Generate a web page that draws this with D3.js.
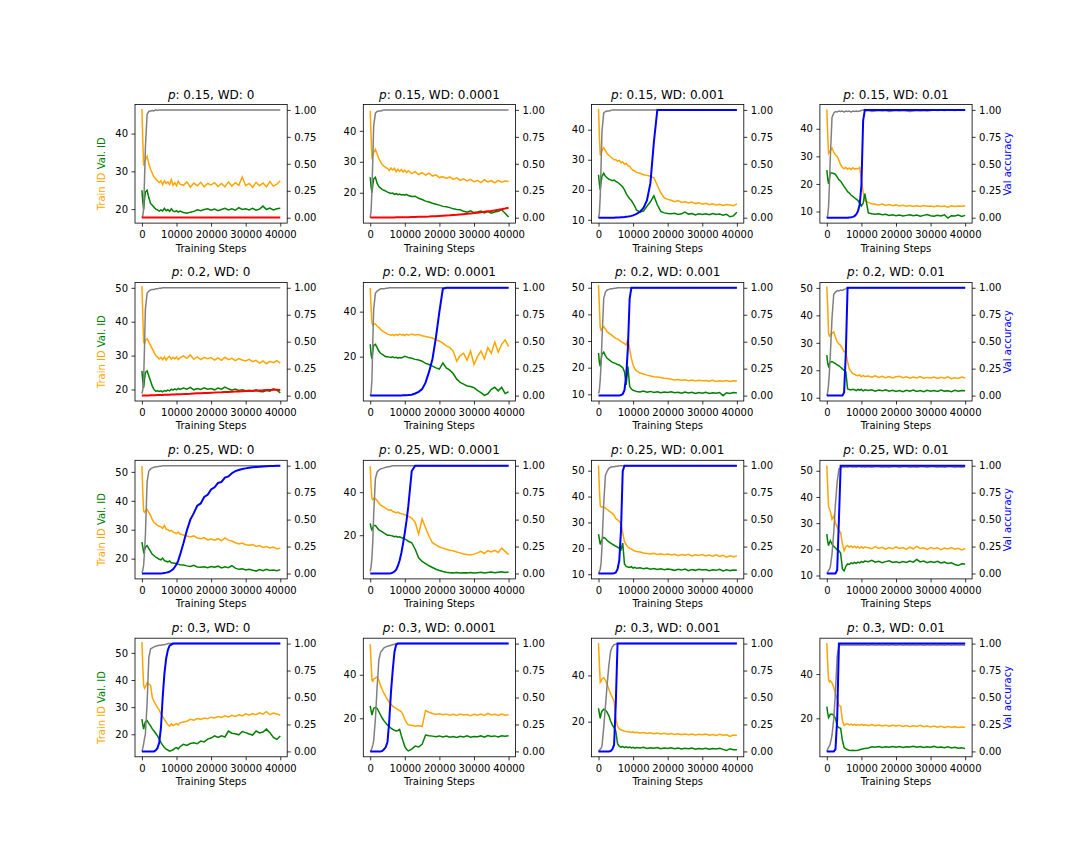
<!DOCTYPE html>
<html>
<head>
<meta charset="utf-8">
<script src="https://cdn.jsdelivr.net/npm/d3@7"></script>
<style>
body { margin: 0; background: #fff; }
text { font-family: "DejaVu Sans", sans-serif; }
</style>
</head>
<body>
<svg id="chart" width="1080" height="864"></svg>
<script>
// training steps shared by every run
var steps = [0,250,500,750,1000,
  1500,2000,2500,3000,3500,4000,4500,5000,
  5500,6000,6500,7000,7500,8000,8500,9000,
  9500,10000,10500,11000,
  12000,13000,14000,15000,16000,17000,18000,19000,20000,
  21000,22000,23000,24000,25000,26000,27000,28000,29000,30000,
  31000,32000,33000,34000,35000,36000,37000,38000,39000,40000];

var pValues = ["0.15", "0.2", "0.25", "0.3"];
var wdValues = ["0", "0.0001", "0.001", "0.01"];
var xTicks = [0, 10000, 20000, 30000, 40000];
var accTicks = [0, 0.25, 0.5, 0.75, 1];

// left axis range and ticks, row by row
var leftDomains = [[16.3,47.7],[10.2,48.5],[8.9,48.4],[5.8,48.8],
  [16.6,51.6],[0.3,53],[7.5,52],[8.8,52],
  [13,54],[-0.3,54.8],[8.2,54],[8.7,54],
  [11.7,55.4],[2.3,56.8],[4.8,56.1],[2.6,56.2]];
var leftTicks = [[20,30,40],[20,30,40],[10,20,30,40],[10,20,30,40],
  [20,30,40,50],[20,40],[10,20,30,40,50],[10,20,30,40,50],
  [20,30,40,50],[20,40],[10,20,30,40,50],[10,20,30,40,50],
  [20,30,40,50],[20,40],[20,40],[20,40]];

var trainId = [
 [46.5,38,31.5,32.5,33, 34,32,30.5,29.5,28.5,28,27.5,27, 27.5,26.5,27.5,26.8,27.2,26.5,27.8,26.3, 27,26.2,27.4,26.6,
  26.3,27.2,25.8,26.9,26.2,27.1,25.9,26.8,26.4, 27,26,26.8,25.9,27.2,26.1,27,26.3,28.5,26.2, 26.8,25.8,27.1,26.2,26.9,25.9,27.3,26.1,26.6,27.5],
 [46.5,38,31.5,32,33, 34,32.5,31,30,29,28.5,28.2,27.8, 27.2,28,27.3,27.9,26.8,27.6,26.9,27.5, 26.7,27.3,26.5,27.1,
  26.2,26.8,25.9,26.5,25.7,26.3,25.4,25.8,24.9, 25.2,24.6,25.1,24.3,24.8,24,24.5,23.8,24.3,23.5, 24,23.3,24.2,23.5,23.9,23.2,24,23.4,23.8,23.6],
 [47,38,31.5,32.5,33, 34,33,32,31.5,31,30.5,30,30, 29.5,29.8,29,29.3,28.5,28.8,28,27.8, 27,26.5,26.2,25.8,
  25.5,25,24.8,24.5,24,21.5,19,17.3,16.8, 16.5,16,16.4,15.8,16,15.6,15.9,15.4,15.7,15.2, 15.5,15,15.3,14.9,15.2,14.8,15.1,14.9,14.7,15.3],
 [47,38,31,31.5,32, 33,31.5,30.5,30,28.5,27,26,25.5, 26,25.3,25.8,25.2,25.9,25.4,25.6,25.5, 26,21.5,17,14,
  13.2,12.8,12.6,12.4,12.7,12.2,12.5,12.1,12.4, 12,12.3,11.9,12.2,11.8,12.1,11.8,12.2,11.9,12, 11.7,12.1,11.8,12,11.6,12.1,11.8,12,11.9,12.1],
 [50.5,42,34,33.5,34.5, 35,34,33,32,31,30,29.5,29, 29.5,28.8,29.6,28.7,29.4,29.8,28.9,29.5, 29,29.6,28.8,29.3,
  29.9,29.2,30.2,28.9,29.6,28.8,29.5,29.1,29.4, 28.7,29.3,28.6,29.5,28.8,29.2,28.5,29.1,28.7,28.4, 28.9,28.2,28.6,27.8,28.4,27.6,28.3,27.9,28.5,27.8],
 [50.5,42,35,34,34.5, 34.5,33.5,33,32,31.5,31,30.5,30, 29.8,29.5,29.8,29.4,29.9,29.5,30,29.6, 29.8,29.4,30,29.5,
  30,29.6,29.8,29.3,29,28.6,28.3,27.5,27, 26,24.8,24,22.5,18,20.5,21.5,18.5,22.5,16.5, 20,22.5,19,24,21.5,26.5,22,25.5,27.5,24.5],
 [51,43,35,34,34.5, 35.4,34.5,33.5,33,32.5,32,31.5,31, 30.8,30.3,29.8,29.4,29,28.5,31,27, 23.5,21,19.5,18.8,
  18,17.6,17.2,16.9,16.6,16.5,16.3,16,15.9, 15.7,15.4,15.6,15.3,15.5,15.1,15.4,15,15.3,15.1, 15.2,14.9,15.3,14.8,15.1,14.9,15.2,14.8,15.1,15],
 [50.5,43,33.5,32.5,33, 33.4,34,32,30.3,29.6,29,28,26.7, 26.7,23,20.5,19.5,18.8,18.5,18.2,18, 18.3,17.6,18.1,17.7,
  17.9,17.5,18,17.4,17.8,17.3,17.7,17.2,17.6, 17.8,17.3,17.6,17.1,17.5,17.2,17.7,17.1,17.4,17.2, 17.5,17,17.4,17.1,17.6,16.9,17.3,17,17.5,17.2],
 [52,43,36.5,36,36.5, 37,36,35,33.5,32.5,32,31.5,31.2, 31,30.5,31.5,30.2,30,29.5,29.8,29.2, 29,28.7,29.2,28.5,
  28.2,27.8,27.5,27.9,27.1,26.9,27.3,26.5,26.8, 26.4,26.9,26.2,27.2,26.4,26.1,25.5,25.1,25.4,24.8, 24.6,24.9,24.2,24.5,23.9,24.2,23.7,24,23.4,23.6],
 [52,43,37,36.5,37, 37,36,35,34,33.5,33,32.5,32, 31.5,31.8,31,30.8,30.5,30.7,30.2,30, 29.8,29.5,29.2,28.8,
  28,26,20.5,27.5,23.5,19.5,16.5,15.5,14.5, 14,13.5,13,12.8,12.2,11.8,11.3,11,10.8,11.2, 11.8,12.5,11.5,12.8,12.2,13,12,14,12.5,11],
 [52,43,36.5,36,36, 36,35.5,35,34.5,34,33.5,32.8,31.5, 31,30.5,29.5,26,22.5,21.5,20.5,20, 19.8,19.3,19,18.8,
  18.6,18.2,18,17.8,18.1,17.6,17.9,17.5,17.8, 17.4,17.7,17.2,17.6,17.3,17.7,17.1,17.5,17.2,17.6, 17.1,17.4,17,17.5,16.9,17.3,16.6,17.1,16.8,17],
 [52,44,36.5,35.5,34.6, 31.5,32.7,30,28.5,27,26.5,22,19.5, 21,21.5,20.8,21.3,20.7,21.2,20.6,21, 20.5,21,20.4,20.9,
  20.6,20.2,21,20.3,20.8,20.1,20.7,20.2,20.9, 20.3,20.7,20,20.8,20.2,21.1,20.3,20.6,20,20.7, 20.2,20.6,19.9,20.5,20.1,20.7,20,20.4,19.8,20.3],
 [54,45,38,37,37.5, 39,38.5,38,33.5,32,31,29.8,29, 27.5,26.5,25.5,24.5,23.5,23,23.8,23.2, 23.6,23.9,23.4,24.2,
  24.5,24.8,25.5,25.2,25.8,25.5,26,25.7,26.3, 26,26.5,26.2,26.8,26.4,27,26.6,27.2,26.8,27.5, 27,27.6,27.2,27.9,27.4,28.3,27.2,27.8,27.5,27],
 [54,46,37.5,37,38, 38.5,39,37.5,35,33,31.5,30,28.5, 27.5,26.5,25.5,25,24.5,24,23.5,23, 21.5,19.5,18,17,
  16.8,16.3,16.7,16.2,23.5,22.8,22.2,21.8,22.1, 21.6,21.9,21.4,21.8,21.3,22,21.5,21.7,21.2,21.8, 21.4,21.9,21.3,22.3,21.5,21.8,21.3,21.9,21.4,21.6],
 [54,45,37,37.5,38.5, 39,38,36,34,32,30.5,29,21.5, 18,17,16.5,16.2,15.9,15.7,15.6,15.5, 15.3,15.6,15.2,15.4,
  15.1,15.3,14.9,15.2,14.8,15.1,14.7,15,14.6, 14.9,14.5,14.8,14.4,14.7,14.3,14.6,14.2,14.5,14.3, 14.6,14.1,14.4,14,14.5,14.1,14.3,13.6,14.2,14],
 [54,45,37.5,36.5,37, 36,34,31,29,25.6,25.5,19,16.8, 17.3,17.5,17,17.4,16.9,17.3,16.8,17.2, 16.9,17.3,16.8,17.1,
  16.7,17.2,16.6,17,16.5,16.9,16.4,16.8,16.5, 16.8,16.3,16.7,16.2,16.6,16.3,16.8,16.2,16.5,16.1, 16.5,16,16.4,15.9,16.3,16,16.2,15.8,16.1,15.9]
];

var valId = [
 [25,22,20,22.5,24.5, 25,23,21.5,21,20.5,20,19.8,19.5, 19.8,19.5,20.2,19.6,19.9,19.4,20.1,19.5, 19.3,19.6,19.2,19.5,
  19.1,18.9,19.2,19.4,19.8,19.6,19.9,20.1,19.7, 20,19.6,19.9,20.2,19.8,20.1,19.7,20.4,19.9,20.1, 19.8,20.2,19.7,20,20.8,19.9,20.3,19.8,20.1,20.2],
 [25,22,20,22.5,24.5, 25,23,22,21.5,21,20.8,20.5,20.2, 20,19.8,19.9,19.5,19.7,19.4,19.6,19.3, 19.4,19.2,19.5,19.1,
  18.8,18.9,18.2,17.8,17.3,17,16.6,16.3,16, 15.6,15.5,15.2,14.8,14.6,14.5,14,13.7,14.2,13.6, 13.8,14.1,13.5,13.9,13.4,13.8,14,14.5,13.4,12.2],
 [25,22,20,22.5,24.5, 25.5,24.5,24,23.5,23.3,23,23.2,22.8, 22.5,22,21.5,20.9,20,18.7,17.8,17, 16.4,15.5,14.5,13.2,
  12.6,12.9,14.5,16,18,15,12.8,12.3,12.1, 12,12.2,11.8,12,12.6,11.9,12.1,11.6,12,11.8, 12,11.7,12.1,11.8,11.9,11.5,11.8,11,11.3,12.5],
 [25,22,20,22,24, 24,23.8,23.5,22.5,21.5,21,20,19, 18.2,17.2,16.7,16,15.5,15,14.5,14, 13,12,13,16.5,
  9.5,9.2,9,9.2,8.8,9,8.6,8.8,8.5, 8.7,8.4,8.6,8.8,8.5,8.7,8.3,8.6,8.9,8.5, 8.3,8.6,8.4,8.8,7.6,8.5,8.4,8.7,8.2,8.6],
 [25.5,22.5,20.5,23,25, 25.5,24,22.5,21,20,19.5,19.6,19.4, 19.6,19.3,19.7,19.5,19.8,19.6,20.1,19.8, 20.2,19.9,20.3,20,
  20.4,20.1,20.6,19.9,20.3,20,20.5,20.1,20.3, 19.9,20.4,20.1,20.7,20.2,19.8,20.1,19.7,19.9,19.6, 19.8,19.5,19.9,19.4,19.3,19.7,19.5,20.2,19.8,19],
 [25.5,21,19,22.5,25, 25.5,24,22.5,21.5,21,20.5,20,20, 19.8,19.6,19.9,19.5,19.7,19.3,19.6,19.4, 19.8,20.2,19.9,19.6,
  19.3,18.8,18.5,18,17,16.5,15.8,15,14.5, 17.2,15,14,12.5,10,8.6,7.8,7,6.7,6.2, 5,4,2.8,3.5,5.5,6.4,4.8,6.4,3.6,4.4],
 [25.5,22,20.5,23,25, 25.8,24.5,23.5,23,22.5,22,21.8,21.5, 21.2,21,20.5,20,18.5,13.5,20.5,13, 12,11.5,11.3,11.1,
  10.9,11.2,10.8,11.1,10.7,11,10.6,10.9,10.7, 11,10.6,10.8,10.4,10.9,10.5,10.8,10.3,10.7,10.4, 10.8,10.3,10.6,10.4,10.7,9.5,10.6,10.3,10.7,10.5],
 [25.5,22.5,21.5,22.5,23, 23.2,22.8,22.4,22,21.6,21.1,20.5,19.9, 19.5,13.2,13,12.8,13.1,12.9,12.6,13, 12.7,13,12.5,12.9,
  12.6,12.9,12.4,12.8,12.5,12.9,12.4,12.7,12.3, 12.6,12.2,12.7,12.4,12.8,12.3,12.6,12.2,12.7,12.4, 12.6,12.3,12.8,12.4,12.5,12.2,12.7,12.4,12.6,12.5],
 [25.7,24,22.3,23,24, 24.5,23.5,22.5,21.5,21,20.5,20.2,19.8, 19.6,20.2,19.3,19.1,18.9,19.2,18.6,18.5, 18.4,18.3,18.1,17.9,
  17.8,17.5,17.3,17.7,17.1,17,17.2,16.9,17.3, 17,17.4,16.8,17.2,16.9,17.6,16.7,16.3,16.5,16.1, 16.3,16,15.7,16.2,15.8,16.3,15.9,16.1,15.8,16.2],
 [25.5,23.5,22.5,23.5,24.5, 24.5,23.5,22.5,22,21.5,21,20.5,20, 20,19.8,19.6,19.3,19.5,19.1,19.3,18.9, 18.6,18.2,17.8,17.2,
  16.5,13.5,9.5,7.8,6.8,5.8,5,4.2,3.6, 3.1,2.8,2.6,2.5,2.7,2.4,2.6,2.5,2.7,2.4, 2.6,2.8,2.5,2.7,2.9,2.6,2.8,3,2.7,2.9],
 [25.5,23.5,21.5,22.5,23.5, 24.2,23.8,23,22.5,22,21.6,21.2,20.8, 20.5,20,19.5,22,14,13,12.8,12.6, 12.9,12.4,12.7,12.3,
  12.5,12.1,12.4,11.9,12.2,11.8,12.1,11.7,12, 11.8,11.5,11.9,11.6,12,11.4,11.8,11.5,11.9,11.6, 11.8,11.4,11.7,11.5,11.9,11.3,11.7,11.4,11.6,11.5],
 [25.8,23,21.4,22.5,23.3, 22,21.2,20.5,19.8,19.5,18.5,12.5,11.8, 13.5,14.4,14.2,14.8,14.5,15,14.6,15.1, 14.8,15.3,15,15.5,
  15.3,15.8,15.1,15.4,14.9,15.3,15.6,15,15.2, 14.9,15.3,15,15.5,15.1,16.1,15.2,15.5,14.9,15.3, 15,15.4,14.8,15.1,14.6,14.9,14.2,13.8,14.5,14.4],
 [25.6,23.5,21.9,23.5,24.5, 25,24,23.1,22,21.2,20.3,19.4,18.2, 16.9,16,15.1,14.5,14.2,13.8,14,14.3, 14.8,15.1,14.6,15.4,
  16.3,15.9,16.6,16.9,16.5,17.5,17.2,18.2,18.6, 19.4,18.8,19.4,19,21.2,20.4,20.2,19.8,21,20.6, 20.1,19.7,21.2,20.5,20.8,21.9,20.6,18.8,18.1,19.4],
 [25.7,23.5,21.5,23,24.5, 25,24.5,23,21.5,20,18.8,17.8,16.8, 16.2,15.5,14.9,14.5,14.2,14.4,14.9,12, 9.5,7,5.8,5,
  5.8,7.2,6.8,8,12.3,12,11.8,11.5,11.9, 11.4,11.8,11.3,11.6,11.2,11.7,11.4,11.9,11.3,11.6, 11.5,11.9,11.3,12.1,11.6,11.9,11.4,12,11.7,12],
 [25.8,23.5,21.4,23.5,24.5, 25.4,25,24,22.5,20.3,18.5,17.4,15.9, 10.5,9.4,9,9.2,8.8,9.1,8.7,9, 8.6,8.9,8.5,8.8,
  8.6,8.9,8.4,8.7,8.5,8.8,8.3,8.6,8.4, 8.7,8.3,8.6,8.2,8.5,8.3,8.6,8.1,8.4,8.2, 8.5,8.1,8.4,8.2,8.5,8,7.5,8.3,7.9,7.9],
 [25.3,22.5,20.3,21,21.8, 21.8,21.5,20,16.5,15.8,15.5,10,6.8, 6.2,5.8,5.6,5.5,5.6,5.4,5.5,5.6, 5.8,6,6.2,6.4,
  6.6,7.1,6.9,7.2,6.8,7.1,6.9,7.3,6.9, 7.2,6.8,7.1,7,7.4,6.9,7.2,6.8,7.1,6.9, 7.3,6.8,7,6.7,7.1,6.6,6.9,6.5,6.7,6.3]
];

var trainAcc = [
 [0,0.02,0.08,0.35,0.65, 0.96,0.985,0.99,0.995,0.99,1,0.995,1, 1,1,1,1,1,1,1,1, 1,1,1,1,
  1,1,1,1,1,1,1,1,1, 1,1,1,1,1,1,1,1,1,1, 1,1,1,1,1,1,1,1,1,1],
 [0,0.06,0.25,0.55,0.85, 0.97,0.985,0.99,0.99,0.995,1,1,1, 1,1,1,1,1,1,1,1, 1,1,1,1,
  1,1,1,1,1,1,1,1,1, 1,1,1,1,1,1,1,1,1,1, 1,1,1,1,1,1,1,1,1,1],
 [0,0.04,0.2,0.5,0.8, 0.97,0.985,0.99,0.99,0.995,1,1,1, 1,1,1,1,1,1,1,1, 1,1,1,1,
  1,1,1,1,1,1,1,1,1, 1,1,1,1,1,1,1,1,1,1, 1,1,1,1,1,1,1,1,1,1],
 [0,0.02,0.1,0.3,0.55, 0.93,0.97,0.985,0.98,0.99,0.985,0.99,0.98, 0.99,0.985,0.99,0.98,0.99,0.985,0.99,0.985, 0.99,0.995,1,0.99,
  0.995,0.985,0.99,0.995,0.99,0.995,0.985,0.99,0.995, 0.99,0.995,0.99,0.985,0.99,0.995,0.99,0.995,0.99,0.995, 1,0.995,1,0.995,1,1,0.995,1,1,1],
 [0.02,0.05,0.15,0.45,0.8, 0.95,0.97,0.98,0.985,0.985,0.99,0.99,0.995, 0.995,1,1,1,1,1,1,1, 1,1,1,1,
  1,1,1,1,1,1,1,1,1, 1,1,1,1,1,1,1,1,1,1, 1,1,1,1,1,1,1,1,1,1],
 [0,0.03,0.15,0.5,0.8, 0.95,0.97,0.98,0.99,0.99,0.99,0.995,0.995, 1,1,1,1,1,1,1,1, 1,1,1,1,
  1,1,1,1,1,1,1,1,1, 1,1,1,1,1,1,1,1,1,1, 1,1,1,1,1,1,1,1,1,1],
 [0.02,0.05,0.15,0.3,0.52, 0.9,0.96,0.98,0.985,0.99,0.99,0.995,0.995, 1,1,1,1,1,1,1,1, 1,1,1,1,
  1,1,1,1,1,1,1,1,1, 1,1,1,1,1,1,1,1,1,1, 1,1,1,1,1,1,1,1,1,1],
 [0,0.03,0.1,0.22,0.37, 0.72,0.94,0.96,0.975,0.97,0.98,0.975,0.985, 0.99,1,1,1,1,1,1,1, 1,1,1,1,
  1,1,1,1,1,1,1,1,1, 1,1,1,1,1,1,1,1,1,1, 1,1,1,1,1,1,1,1,1,1],
 [0.01,0.03,0.08,0.2,0.35, 0.85,0.95,0.97,0.98,0.985,0.99,0.99,0.995, 0.995,1,1,1,1,1,1,1, 1,1,1,1,
  1,1,1,1,1,1,1,1,1, 1,1,1,1,1,1,1,1,1,1, 1,1,1,1,1,1,1,1,1,1],
 [0.02,0.06,0.15,0.3,0.55, 0.88,0.94,0.96,0.97,0.975,0.98,0.985,0.99, 0.99,0.995,1,1,1,1,1,1, 1,1,1,1,
  1,1,1,1,1,1,1,1,1, 1,1,1,1,1,1,1,1,1,1, 1,1,1,1,1,1,1,1,1,1],
 [0,0.02,0.04,0.1,0.25, 0.65,0.91,0.95,0.975,0.985,0.99,0.99,0.995, 0.995,1,1,1,1,1,1,1, 1,1,1,1,
  1,1,1,1,1,1,1,1,1, 1,1,1,1,1,1,1,1,1,1, 1,1,1,1,1,1,1,1,1,1],
 [0,0.01,0.03,0.04,0.06, 0.18,0.38,0.65,0.85,0.97,0.98,0.99,0.985, 0.99,0.985,0.99,0.99,0.985,0.99,0.985,0.99, 0.99,0.985,0.99,0.985,
  0.99,0.985,0.99,0.99,0.985,0.99,0.985,0.99,0.99, 0.985,0.99,0.99,0.985,0.99,0.985,0.99,0.99,0.985,0.99, 0.99,0.985,0.99,0.985,0.99,0.99,0.985,0.99,0.985,0.99],
 [0,0.03,0.07,0.12,0.16, 0.45,0.87,0.95,0.96,0.97,0.975,0.98,0.985, 0.985,0.99,0.99,0.995,1,1,1,1, 1,1,1,1,
  1,1,1,1,1,1,1,1,1, 1,1,1,1,1,1,1,1,1,1, 1,1,1,1,1,1,1,1,1,1],
 [0,0.01,0.03,0.06,0.1, 0.3,0.6,0.85,0.92,0.94,0.96,0.97,0.975, 0.98,0.985,0.99,0.995,1,1,1,1, 1,1,1,1,
  1,1,1,1,1,1,1,1,1, 1,1,1,1,1,1,1,1,1,1, 1,1,1,1,1,1,1,1,1,1],
 [0,0.01,0.02,0.03,0.05, 0.22,0.42,0.62,0.8,0.93,0.97,0.99,0.995, 1,1,1,1,1,1,1,1, 1,1,1,1,
  1,1,1,1,1,1,1,1,1, 1,1,1,1,1,1,1,1,1,1, 1,1,1,1,1,1,1,1,1,1],
 [0,0.02,0.04,0.05,0.07, 0.15,0.3,0.55,0.88,0.98,0.99,0.985,0.99, 0.985,0.99,0.985,0.99,0.985,0.99,0.985,0.99, 0.985,0.99,0.985,0.99,
  0.985,0.99,0.985,0.99,0.985,0.99,0.985,0.99,0.985, 0.99,0.985,0.99,0.985,0.99,0.985,0.99,0.985,0.99,0.985, 0.99,0.985,0.99,0.985,0.99,0.985,0.99,0.985,0.99,0.985]
];

var valAcc = [
 [0.002,0.002,0.003,0.002,0.003, 0.002,0.003,0.002,0.003,0.002,0.003,0.002,0.003, 0.002,0.003,0.002,0.003,0.002,0.003,0.002,0.003, 0.002,0.003,0.002,0.003,
  0.002,0.003,0.002,0.003,0.002,0.003,0.002,0.003,0.002, 0.003,0.002,0.003,0.002,0.003,0.002,0.003,0.002,0.003,0.002, 0.003,0.002,0.003,0.002,0.003,0.002,0.003,0.002,0.003,0.003],
 [0.003,0.003,0.003,0.003,0.003, 0.003,0.003,0.003,0.003,0.003,0.003,0.003,0.003, 0.003,0.003,0.003,0.003,0.004,0.004,0.004,0.004, 0.004,0.005,0.005,0.005,
  0.006,0.007,0.008,0.009,0.01,0.011,0.013,0.014,0.016, 0.018,0.02,0.022,0.025,0.027,0.03,0.033,0.036,0.04,0.043, 0.047,0.051,0.055,0.059,0.063,0.068,0.073,0.079,0.085,0.092],
 [0,0,0,0,0, 0,0,0,0,0,0,0,0.002, 0.002,0.003,0.004,0.005,0.006,0.008,0.01,0.013, 0.017,0.022,0.028,0.035,
  0.055,0.09,0.16,0.32,0.7,1,1,1,1, 1,1,1,1,1,1,1,1,1,1, 1,1,1,1,1,1,1,1,1,1],
 [0,0,0,0,0, 0,0,0,0,0,0,0,0, 0,0,0.002,0.004,0.008,0.015,0.03,0.06, 0.12,0.3,0.9,1,
  1,1,1,1,1,1,1,1,1, 1,1,1,1,1,1,1,1,1,1, 1,1,1,1,1,1,1,1,1,1],
 [0,0,0,0,0.001, 0.002,0.002,0.003,0.003,0.004,0.004,0.005,0.005, 0.006,0.006,0.007,0.008,0.008,0.009,0.01,0.011, 0.011,0.012,0.012,0.013,
  0.014,0.016,0.017,0.019,0.021,0.022,0.024,0.025,0.027, 0.028,0.03,0.031,0.033,0.034,0.036,0.037,0.039,0.04,0.042, 0.043,0.045,0.046,0.048,0.049,0.051,0.052,0.054,0.055,0.053],
 [0,0,0,0,0, 0,0,0,0,0,0,0,0, 0,0,0,0,0.001,0.001,0.002,0.002, 0.003,0.003,0.004,0.005,
  0.008,0.02,0.035,0.06,0.12,0.22,0.34,0.54,0.78, 0.99,1,1,1,1,1,1,1,1,1, 1,1,1,1,1,1,1,1,1,1],
 [0,0,0,0,0, 0,0,0,0,0,0,0,0, 0,0,0.005,0.015,0.05,0.18,0.45,0.9, 1,1,1,1,
  1,1,1,1,1,1,1,1,1, 1,1,1,1,1,1,1,1,1,1, 1,1,1,1,1,1,1,1,1,1],
 [0,0,0,0,0, 0,0,0,0,0,0,0,0.03, 0.4,1,1,1,1,1,1,1, 1,1,1,1,
  1,1,1,1,1,1,1,1,1, 1,1,1,1,1,1,1,1,1,1, 1,1,1,1,1,1,1,1,1,1],
 [0,0,0,0,0, 0,0,0,0,0,0,0,0, 0.001,0.002,0.005,0.008,0.012,0.018,0.028,0.04, 0.06,0.085,0.12,0.17,
  0.28,0.4,0.5,0.56,0.63,0.65,0.71,0.73,0.78, 0.8,0.84,0.85,0.89,0.9,0.93,0.95,0.96,0.97,0.975, 0.98,0.985,0.988,0.99,0.993,0.995,0.997,0.998,0.999,1],
 [0,0,0,0,0, 0,0,0,0,0,0,0,0, 0.001,0.003,0.008,0.018,0.035,0.07,0.12,0.19, 0.28,0.38,0.49,0.62,
  0.95,1,1,1,1,1,1,1,1, 1,1,1,1,1,1,1,1,1,1, 1,1,1,1,1,1,1,1,1,1],
 [0,0,0,0,0, 0,0,0,0,0,0,0.002,0.01, 0.04,0.12,0.4,0.95,1,1,1,1, 1,1,1,1,
  1,1,1,1,1,1,1,1,1, 1,1,1,1,1,1,1,1,1,1, 1,1,1,1,1,1,1,1,1,1],
 [0,0,0,0,0, 0,0,0,0.03,0.5,1,1,1, 1,1,1,1,1,1,1,1, 1,1,1,1,
  1,1,1,1,1,1,1,1,1, 1,1,1,1,1,1,1,1,1,1, 1,1,1,1,1,1,1,1,1,1],
 [0,0,0,0,0, 0,0,0,0,0,0.01,0.03,0.08, 0.22,0.5,0.72,0.86,0.94,0.98,0.99,1, 1,1,1,1,
  1,1,1,1,1,1,1,1,1, 1,1,1,1,1,1,1,1,1,1, 1,1,1,1,1,1,1,1,1,1],
 [0,0,0,0,0, 0,0,0,0,0.005,0.02,0.04,0.09, 0.28,0.55,0.75,0.92,0.99,1,1,1, 1,1,1,1,
  1,1,1,1,1,1,1,1,1, 1,1,1,1,1,1,1,1,1,1, 1,1,1,1,1,1,1,1,1,1],
 [0,0,0,0,0, 0,0,0,0,0.003,0.02,0.06,0.45, 1,1,1,1,1,1,1,1, 1,1,1,1,
  1,1,1,1,1,1,1,1,1, 1,1,1,1,1,1,1,1,1,1, 1,1,1,1,1,1,1,1,1,1],
 [0,0,0,0,0, 0,0,0.02,0.3,1,1,1,1, 1,1,1,1,1,1,1,1, 1,1,1,1,
  1,1,1,1,1,1,1,1,1, 1,1,1,1,1,1,1,1,1,1, 1,1,1,1,1,1,1,1,1,1]
];

// grid of panels
var left0 = 135, top0 = 104.5;
var plotW = 152.2, plotH = 118.6;
var stepX = 228.3, stepY = 177.9;

var svg = d3.select("#chart");
var x = d3.scaleLinear().domain([-2000, 42000]).range([0, plotW]);
var yAcc = d3.scaleLinear().domain([-0.05, 1.05]).range([plotH, 0]);

function styleAxis(sel){
	sel.attr("font-family", "DejaVu Sans, sans-serif").attr("font-size", 10).attr("color", "#000");
	sel.select(".domain").remove();
	sel.selectAll(".tick line").attr("stroke-width", 0.8);
}

pValues.forEach(function(p, row){
	wdValues.forEach(function(wd, col){
		var k = row * 4 + col;
		var g = svg.append("g")
			.attr("transform", "translate(" + (left0 + col * stepX) + "," + (top0 + row * stepY) + ")");

		var yId = d3.scaleLinear().domain(leftDomains[k]).range([plotH, 0]);
		var lineId = d3.line()
			.x(function(d, i){ return x(steps[i]); })
			.y(function(d){ return yId(d); });
		var lineAcc = d3.line()
			.x(function(d, i){ return x(steps[i]); })
			.y(function(d){ return yAcc(d); });

		g.append("path").datum(trainId[k]).attr("d", lineId)
			.attr("fill", "none").attr("stroke", "orange").attr("stroke-width", 1.5);
		g.append("path").datum(valId[k]).attr("d", lineId)
			.attr("fill", "none").attr("stroke", "green").attr("stroke-width", 1.5);
		g.append("path").datum(trainAcc[k]).attr("d", lineAcc)
			.attr("fill", "none").attr("stroke", "gray").attr("stroke-width", 1.5);

		// runs that never generalise are drawn in red
		var last = valAcc[k][valAcc[k].length - 1];
		g.append("path").datum(valAcc[k]).attr("d", lineAcc)
			.attr("fill", "none").attr("stroke", last < 0.5 ? "red" : "blue").attr("stroke-width", 2);

		g.append("g").attr("transform", "translate(0," + plotH + ")")
			.call(d3.axisBottom(x).tickValues(xTicks).tickFormat(d3.format("d")).tickSize(3.5).tickPadding(4.5))
			.call(styleAxis);
		g.append("g")
			.call(d3.axisLeft(yId).tickValues(leftTicks[k]).tickFormat(d3.format("d")).tickSize(3.5).tickPadding(3.5))
			.call(styleAxis);
		g.append("g").attr("transform", "translate(" + plotW + ",0)")
			.call(d3.axisRight(yAcc).tickValues(accTicks).tickFormat(d3.format(".2f")).tickSize(3.5).tickPadding(3.5))
			.call(styleAxis);

		g.append("rect").attr("width", plotW).attr("height", plotH)
			.attr("fill", "none").attr("stroke", "#000").attr("stroke-width", 0.8);

		var title = g.append("text").attr("x", plotW / 2).attr("y", -6)
			.attr("text-anchor", "middle").attr("font-size", 12);
		title.append("tspan").attr("font-style", "italic").text("p");
		title.append("tspan").text(": " + p + ", WD: " + wd);

		g.append("text").attr("x", plotW / 2).attr("y", plotH + 28.5)
			.attr("text-anchor", "middle").attr("font-size", 10).text("Training Steps");

		if (col == 0){
			var yl = g.append("text")
				.attr("transform", "translate(-30," + (plotH / 2 + 10) + ") rotate(-90)")
				.attr("text-anchor", "middle").attr("font-size", 10);
			yl.append("tspan").attr("fill", "orange").text("Train ID");
			yl.append("tspan").attr("fill", "green").text(" Val. ID");
		}
		if (col == 3){
			g.append("text")
				.attr("transform", "translate(" + (plotW + 38.5) + "," + (plotH / 2) + ") rotate(-90)")
				.attr("text-anchor", "middle").attr("font-size", 10).attr("fill", "blue")
				.text("Val accuracy");
		}
	});
});
</script>
</body>
</html>
